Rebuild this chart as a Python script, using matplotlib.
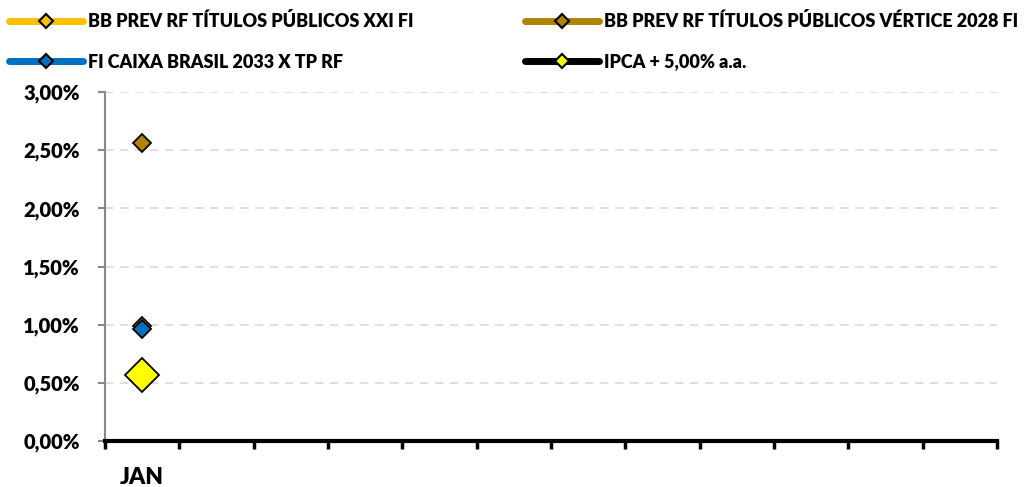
import matplotlib
matplotlib.use("Agg")
import matplotlib.pyplot as plt
from matplotlib.lines import Line2D
from matplotlib.ticker import FuncFormatter, MultipleLocator
import numpy as np

months = ["JAN", "FEV", "MAR", "ABR", "MAI", "JUN", "JUL", "AGO", "SET", "OUT", "NOV", "DEZ"]
tick_labels = ["JAN", "", "", "", "", "", "", "", "", "", "", ""]
series_names = ["BB PREV RF TÍTULOS PÚBLICOS XXI FI",
                "BB PREV RF TÍTULOS PÚBLICOS VÉRTICE 2028 FI",
                "FI CAIXA BRASIL 2033 X TP RF",
                "IPCA + 5,00% a.a."]
xxi = [0.99]
vertice = [2.56]
caixa = [0.96]
ipca = [0.57]

plt.rcParams['font.family'] = ['Lato', 'DejaVu Sans']
WEIGHT = 'heavy'
plt.rcParams['font.weight'] = WEIGHT

W, H = 1025, 487
fig = plt.figure(figsize=(W/100, H/100), dpi=100)
ax = fig.add_axes([105/W, 1-441/H, (997-105)/W, (441-92)/H])

line_colors = ["#FFC000", "#AF8400", "#0070C0", "#000000"]
face_colors = ["#FFC000", "#AF8400", "#0070C0", "#FFFF00"]
sizes = [9, 9, 9, 17]
data = [xxi, vertice, caixa, ipca]
x = np.arange(len(months))
for vals, lc, fc, ms in zip(data, line_colors, face_colors, sizes):
    ax.plot(x[:len(vals)], vals, color=lc, lw=3.5, marker='D', ms=ms,
            mfc=fc, mec='black', mew=1.3, zorder=3)

ax.set_xlim(-0.5, 11.5)
ax.set_ylim(0, 3.0)
ax.yaxis.set_major_locator(MultipleLocator(0.5))
ax.yaxis.set_major_formatter(FuncFormatter(lambda v, p: f"{v:.2f}%".replace('.', ',')))
ax.grid(axis='y', color='#d9d9d9', linestyle=(0, (5, 4)), lw=1.2, zorder=0)
ax.set_xticks(x)
ax.set_xticklabels(tick_labels, fontsize=16.5, fontweight=WEIGHT)
ax.tick_params(axis='x', which='major', length=0, pad=19)
ax.set_xticks(np.arange(-0.5, 12, 1), minor=True)
ax.tick_params(axis='x', which='minor', length=6, width=2.5, color='black', direction='out')
ax.tick_params(axis='y', length=5, width=1.5, color='#888888', labelsize=14.5, pad=13)
for lab in ax.get_yticklabels():
    lab.set_fontweight(WEIGHT)
for s in ['top', 'right']:
    ax.spines[s].set_visible(False)
ax.spines['left'].set_color('#888888')
ax.spines['left'].set_linewidth(1.5)
ax.spines['bottom'].set_color('black')
ax.spines['bottom'].set_linewidth(3)

handles = [Line2D([], [], color=lc, lw=5, marker='D', ms=7, mfc=fc, mec='black', mew=1.5,
                  solid_capstyle='round')
           for lc, fc in zip(line_colors, face_colors)]
# legend grid: row-wise, two columns
pos = [(9, 21), (525, 21), (9, 62), (525, 62)]
for h, name, (px, py) in zip(handles, series_names, pos):
    fig.legend([h], [name], loc='center left', bbox_to_anchor=(px/W, 1-py/H),
               borderaxespad=0.0, borderpad=0.0, frameon=False,
               handlelength=4.1, handletextpad=0.3,
               prop={'weight': WEIGHT, 'size': 13})

fig.savefig("out.png", dpi=100)
